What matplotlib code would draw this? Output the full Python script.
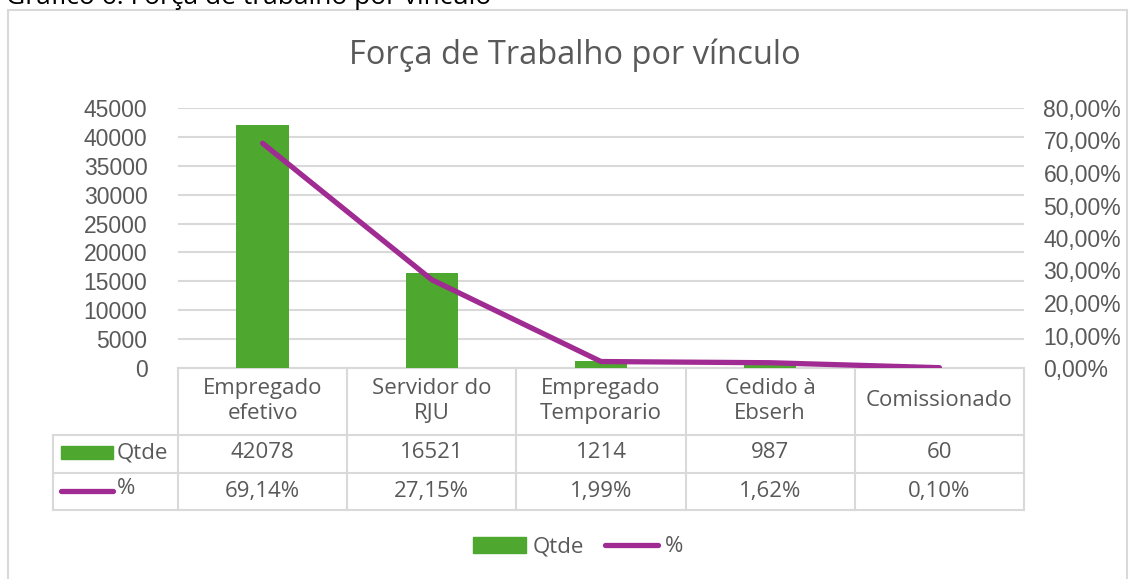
import matplotlib.pyplot as plt
from matplotlib.lines import Line2D
from matplotlib.patches import Rectangle
import numpy as np

# data
categorias = ['Empregado\nefetivo', 'Servidor do\nRJU', 'Empregado\nTemporario', 'Cedido à\nEbserh', 'Comissionado']
qtde = [42078, 16521, 1214, 987, 60]
pct = [69.14, 27.15, 1.99, 1.62, 0.10]

verde = '#4EA72E'
roxo = '#A02B93'
cinza = '#595959'
grade = '#D9D9D9'
fonte_tab = ['Open Sans', 'DejaVu Sans']
fonte_eixo = ['Liberation Sans', 'DejaVu Sans']

W, H = 1131, 579
fig = plt.figure(figsize=(W / 100, H / 100), dpi=100)

# chart frame + cut caption
fig.patches.append(Rectangle((8 / W, -0.1), (1127 - 8) / W, 1.1 - 10 / H,
                             transform=fig.transFigure, fill=False,
                             edgecolor=grade, linewidth=1.5))
fig.text(6 / W, 1 - 4 / H, 'Gráfico 6: Força de trabalho por vínculo', fontsize=19,
         family=fonte_tab, color='black', va='baseline', ha='left')

x0, x1, y0, y1 = 178, 1024, 368, 108
ax = fig.add_axes([x0 / W, 1 - y0 / H, (x1 - x0) / W, (y0 - y1) / H])
ax2 = ax.twinx()

x = np.arange(len(categorias))
ax.bar(x, qtde, width=0.31, color=verde, zorder=3)
ax.set_xlim(-0.5, len(categorias) - 0.5)
ax.set_ylim(0, 45000)
ax.set_yticks(np.arange(0, 45001, 5000))
ax.yaxis.grid(True, color=grade, linewidth=1.5, zorder=0)
ax.set_axisbelow(True)

ax2.plot(x, np.array(pct) / 100, color=roxo, linewidth=3.8, solid_capstyle='round', zorder=4)
ax2.set_ylim(0, 0.8)
ax2.set_yticks(np.arange(0, 0.81, 0.1))
ax2.set_yticklabels([f'{v:.2f}%'.replace('.', ',') for v in np.arange(0, 81, 10)])

for a in (ax, ax2):
    for s in a.spines.values():
        s.set_visible(False)
    a.tick_params(length=0, labelsize=16.5, labelcolor=cinza)
    for lbl in a.get_yticklabels():
        lbl.set_family(fonte_eixo)
ax.tick_params(axis='y', pad=22)
ax2.tick_params(axis='y', pad=14)
ax.set_xticks([])

fig.text(575 / W, 1 - 55 / H, 'Força de Trabalho por vínculo', fontsize=23.5, color=cinza,
         family=fonte_tab, ha='center', va='center')

# data table below the plot
alt = y0 - y1
def ay(py):
    return -(py - y0) / alt

def ax_(px):
    return (px - x0) / (x1 - x0)

linhas_y = [368, 435, 473, 510]
hx = 53
def linha(xa, xb, ya, yb):
    ax.add_line(Line2D([xa, xb], [ya, yb], transform=ax.transAxes, color=grade,
                       linewidth=1.5, clip_on=False))

linha(0, 1, ay(368), ay(368))
for py in linhas_y[1:]:
    linha(ax_(hx), 1, ay(py), ay(py))
linha(ax_(hx), ax_(hx), ay(435), ay(510))
for i in range(len(categorias) + 1):
    xf = i / len(categorias)
    linha(xf, xf, ay(368), ay(510))

fs = 16
for i, cat in enumerate(categorias):
    xc = (i + 0.5) / len(categorias)
    ax.text(xc, ay(401), cat, transform=ax.transAxes, ha='center', va='center',
            fontsize=fs, color=cinza, family=fonte_tab, linespacing=1.2)
    ax.text(xc, ay(453), str(qtde[i]), transform=ax.transAxes, ha='center', va='center',
            fontsize=fs, color=cinza, family=fonte_tab)
    ax.text(xc, ay(491), f'{pct[i]:.2f}%'.replace('.', ','), transform=ax.transAxes,
            ha='center', va='center', fontsize=fs, color=cinza, family=fonte_tab)

# row headers
ax.add_patch(Rectangle((ax_(61), ay(459)), ax_(113) - ax_(61), ay(446) - ay(459),
                       transform=ax.transAxes, color=verde, clip_on=False))
ax.text(ax_(117), ay(453), 'Qtde', transform=ax.transAxes, ha='left', va='center',
        fontsize=fs, color=cinza, family=fonte_tab)
ax.add_line(Line2D([ax_(61), ax_(113)], [ay(491), ay(491)], transform=ax.transAxes,
                   color=roxo, linewidth=3.8, solid_capstyle='round', clip_on=False))
ax.text(ax_(117), ay(489), '%', transform=ax.transAxes, ha='left', va='center',
        fontsize=fs, color=cinza, family=fonte_tab)

# legend
handles = [Rectangle((0, 0), 1, 1, color=verde),
           Line2D([0], [0], color=roxo, linewidth=3.8, solid_capstyle='round')]
fig.legend(handles, ['Qtde', '%'], loc='center', bbox_to_anchor=(578 / W, 1 - 547 / H),
           ncol=2, frameon=False, prop={'family': fonte_tab, 'size': fs},
           labelcolor=cinza, handlelength=2.4, handleheight=0.7, handletextpad=0.3,
           columnspacing=0.9)

fig.savefig('out.png', dpi=100)
